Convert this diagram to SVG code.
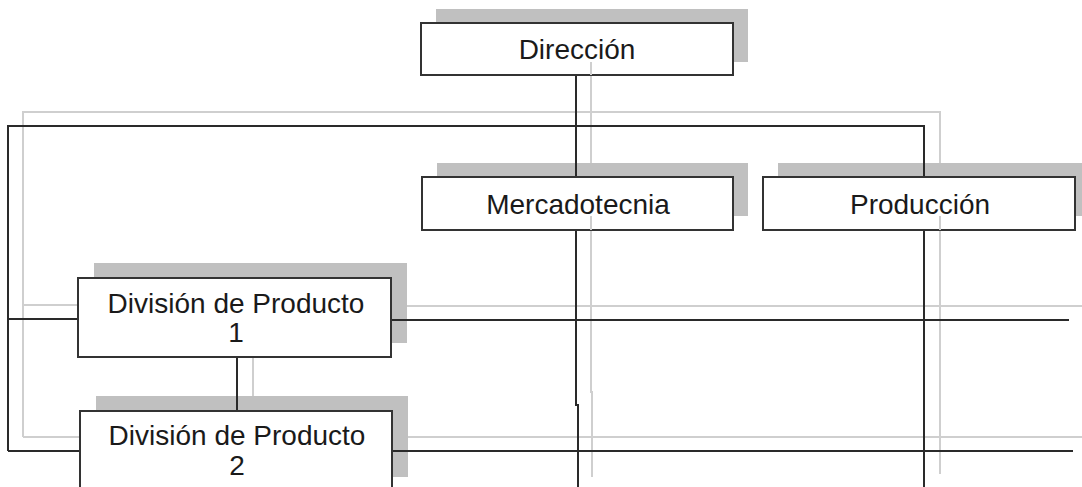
<svg xmlns="http://www.w3.org/2000/svg" width="1082" height="487" viewBox="0 0 1082 487">
<style>
.sh{fill:#c0c0c0;stroke:none}
.box{fill:#fff;stroke:#333;stroke-width:2}
.lt{fill:none;stroke:#cfcfcf;stroke-width:2}
.dk{fill:none;stroke:#2a2a2a;stroke-width:2}
text{font-family:"Liberation Sans",Arial,sans-serif;font-size:28px;fill:#1a1a1a;text-anchor:middle}
.d{font-size:28px}
</style>
<rect width="1082" height="487" fill="#fff"/>
<g id="shadows">
<rect class="sh" x="436" y="9" width="312" height="53"/>
<rect class="sh" x="437" y="163" width="311" height="53"/>
<rect class="sh" x="778" y="163" width="312" height="53"/>
<rect class="sh" x="94" y="263" width="313" height="80"/>
<rect class="sh" x="96" y="396" width="312" height="81"/>
</g>
<g id="connectors">
<polyline class="lt" points="591,62 591,163"/>
<polyline class="lt" points="23,437 23,112 940,112 940,163"/>
<polyline class="lt" points="591,216 591,392 592,392 592,477"/>
<polyline class="lt" points="940,216 940,474"/>
<polyline class="lt" points="23,305 94,305"/>
<polyline class="lt" points="407,306 1082,306"/>
<polyline class="lt" points="23,437 96,437"/>
<polyline class="lt" points="408,437 1082,437"/>
<polyline class="lt" points="253,343 253,396"/>
<polyline class="dk" points="576,75 576,177"/>
<polyline class="dk" points="8,451 8,126 924,126 924,177"/>
<polyline class="dk" points="576,230 576,405 578,405 578,487"/>
<polyline class="dk" points="924,230 924,487"/>
<polyline class="dk" points="8,319 78,319"/>
<polyline class="dk" points="391,320 1069,320"/>
<polyline class="dk" points="8,451 80,451"/>
<polyline class="dk" points="392,451 1073,451"/>
<polyline class="dk" points="237,357 237,411"/>
</g>
<g id="direccion">
<rect class="box" x="421" y="23" width="312" height="52"/>
<text x="577" y="59">Dirección</text>
</g>
<g id="mercadotecnia">
<rect class="box" x="422" y="177" width="311" height="53"/>
<text x="578" y="214">Mercadotecnia</text>
</g>
<g id="produccion">
<rect class="box" x="763" y="177" width="312" height="53"/>
<text x="920" y="214">Producción</text>
</g>
<g id="division1">
<rect class="box" x="78" y="278" width="313" height="79"/>
<text class="d" x="236" y="313">División de Producto</text>
<text class="d" x="236" y="342">1</text>
</g>
<g id="division2">
<rect class="box" x="80" y="411" width="312" height="90"/>
<text class="d" x="237" y="445">División de Producto</text>
<text class="d" x="237" y="475">2</text>
</g>
<g id="overlay">
<line class="lt" x1="591" y1="62" x2="591" y2="75"/>
<line class="lt" x1="591" y1="216" x2="591" y2="230"/>
<line class="lt" x1="940" y1="216" x2="940" y2="230"/>
</g>
</svg>
